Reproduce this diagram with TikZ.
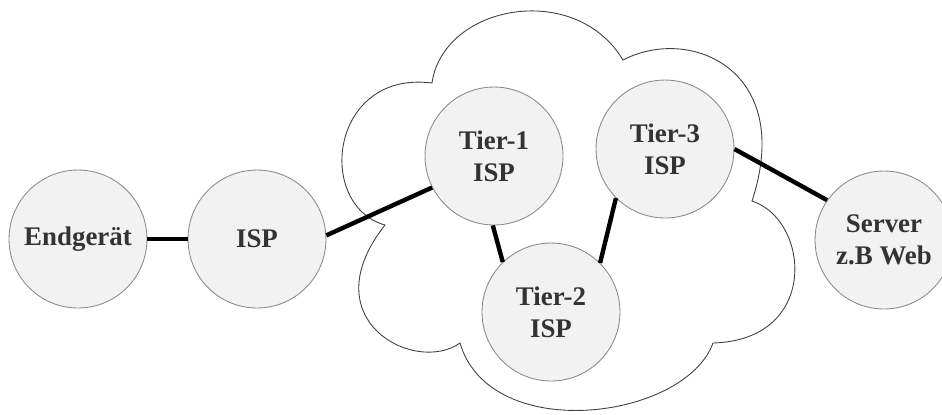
\documentclass[tikz,border=0pt]{standalone}
\usepackage{fontspec}
\setmainfont{Liberation Serif}
\begin{document}
\begin{tikzpicture}[x={(0.02cm,0)}, y={(0,-0.02cm)},
  hostnode/.style={circle, draw=black!45, line width=0.5pt, fill=black!5,
    minimum size=2.76cm, inner sep=0pt, align=center, text=black!80,
    font=\fontsize{15.3}{18}\selectfont\bfseries},
  link/.style={line width=2.5pt, black},
  cloudline/.style={draw=black!75, line width=0.5pt, fill=white}]
\useasboundingbox (0,0) rectangle (942,414);

% provider cloud
\draw[cloudline] (432,83)
  .. controls (443,5) and (575,-20) .. (623,60)
  .. controls (690,25) and (795,70) .. (752,201)
  .. controls (810,220) and (820,340) .. (713,343)
  .. controls (685,420) and (490,445) .. (460,343)
  .. controls (415,375) and (310,320) .. (385,225)
  .. controls (315,205) and (330,70) .. (432,83) -- cycle;

% hosts and providers
\node[hostnode] (end)    at (78,239)  {Endgerät};
\node[hostnode] (isp)    at (257,239) {ISP};
\node[hostnode] (tier1)  at (494,156) {Tier-1\\ISP};
\node[hostnode] (tier2)  at (551,312) {Tier-2\\ISP};
\node[hostnode] (tier3)  at (665,149) {Tier-3\\ISP};
\node[hostnode] (server) at (884,240) {Server\\z.B Web};

% links
\draw[link] (end) -- (isp);
\draw[link] (isp.3) -- (tier1.207);
\draw[link] (tier1.269) -- (tier2.134);
\draw[link] (tier2.45) -- (tier3.225);
\draw[link] (tier3.0) -- (server.145);
\end{tikzpicture}
\end{document}
